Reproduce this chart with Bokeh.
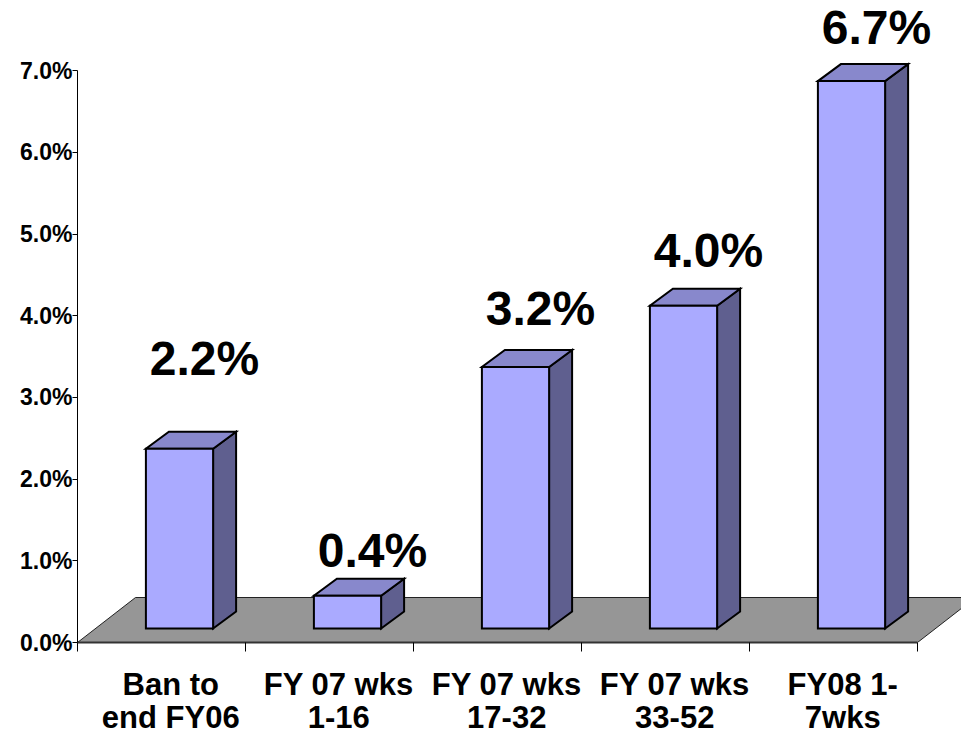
from bokeh.plotting import figure
from bokeh.models import Range1d, FixedTicker, PrintfTickFormatter, CustomJSTickFormatter
from bokeh.embed import file_html
from bokeh.resources import INLINE
from bokeh.core.properties import value

# ---------------- data ----------------
categories = ["Ban to\nend FY06", "FY 07 wks\n1-16", "FY 07 wks\n17-32",
              "FY 07 wks\n33-52", "FY08 1-\n7wks"]
shares = [2.2, 0.4, 3.2, 3.95, 6.7]          # percent
y_ticks = [0, 1, 2, 3, 4, 5, 6, 7]

# ---------------- layout / style ----------------
W, H = 961, 739
LEFT, BOTTOM = 77, 97
PX_X = 168.0     # pixels per category
PX_Y = 81.7      # pixels per percentage point
FONT = "Liberation Sans"
label_lift_px = [90, 45, 59, 55, 54]   # manual label placement above bar tops
LABEL_SHIFT = 0.055                    # category labels sit slightly right


def ux(px):
    return px / PX_X


def uy(px):
    return px / PX_Y


x_end = (W - LEFT) / PX_X
y_end = (H - BOTTOM) / PX_Y
n = len(categories)

p = figure(width=W, height=H, x_range=Range1d(0, x_end), y_range=Range1d(0, y_end),
           output_backend="svg", toolbar_location=None,
           min_border_left=LEFT, min_border_right=0, min_border_top=0,
           min_border_bottom=BOTTOM)
p.grid.visible = False
p.outline_line_color = None
p.background_fill_color = "white"
p.border_fill_color = "white"

# floor
fdx, fdy = ux(58), uy(45)
p.patch([0, n, n + fdx, fdx], [0, 0, fdy, fdy],
        fill_color="#969696", line_color="#222222", line_width=1)

# bars
bar_w = 0.4
front_shift = ux(18)
base = uy(14)
ddx, ddy = ux(23), uy(17)
lefts = [i + 0.5 + front_shift - bar_w / 2 for i in range(n)]
rights = [l + bar_w for l in lefts]
tops = [base + v for v in shares]

side_xs = [[r, r + ddx, r + ddx, r] for r in rights]
side_ys = [[base, base + ddy, t + ddy, t] for t in tops]
top_xs = [[l, r, r + ddx, l + ddx] for l, r in zip(lefts, rights)]
top_ys = [[t, t, t + ddy, t + ddy] for t in tops]

p.patches(side_xs, side_ys, fill_color="#5F5F8F", line_color="black", line_width=2,
          line_join="miter")
p.patches(top_xs, top_ys, fill_color="#8888CC", line_color="black", line_width=2,
          line_join="miter")
p.quad(left=lefts, right=rights, bottom=base, top=tops,
       fill_color="#AAAAFF", line_color="black", line_width=2, line_join="miter")

# value labels
p.text(x=[i + 0.5 + ux(43) for i in range(n)], y=tops,
       text=[f"{v:.1f}%" for v in shares],
       y_offset=[-d for d in label_lift_px],
       text_font=value(FONT), text_font_style="bold", text_font_size="48px",
       text_align="center", text_baseline="middle", text_color="black")

# x axis
xa = p.xaxis[0]
xa.ticker = FixedTicker(ticks=[i + 0.5 + LABEL_SHIFT for i in range(n)],
                        minor_ticks=list(range(n + 1)))
xa.formatter = CustomJSTickFormatter(args=dict(labels=categories),
                                     code="return labels[index];")
xa.bounds = (0, n)
xa.axis_line_color = "#333333"
xa.axis_line_width = 2
xa.major_tick_line_color = None
xa.major_tick_out = 0
xa.major_tick_in = 0
xa.minor_tick_line_color = "black"
xa.minor_tick_out = 9
xa.minor_tick_in = 0
xa.major_label_text_font = FONT
xa.major_label_text_font_style = "bold"
xa.major_label_text_font_size = "31px"
xa.major_label_text_line_height = 0.97
xa.major_label_text_color = "black"
xa.major_label_standoff = 15

# y axis
ya = p.yaxis[0]
ya.ticker = FixedTicker(ticks=y_ticks)
ya.formatter = PrintfTickFormatter(format="%.1f%%")
ya.bounds = (0, 7)
ya.axis_line_color = "black"
ya.axis_line_width = 1
ya.major_tick_out = 5
ya.major_tick_in = 0
ya.minor_tick_line_color = None
ya.major_label_text_font = FONT
ya.major_label_text_font_style = "bold"
ya.major_label_text_font_size = "23px"
ya.major_label_text_color = "black"
ya.major_label_standoff = 0

open("out.html", "w").write(file_html(p, INLINE))
